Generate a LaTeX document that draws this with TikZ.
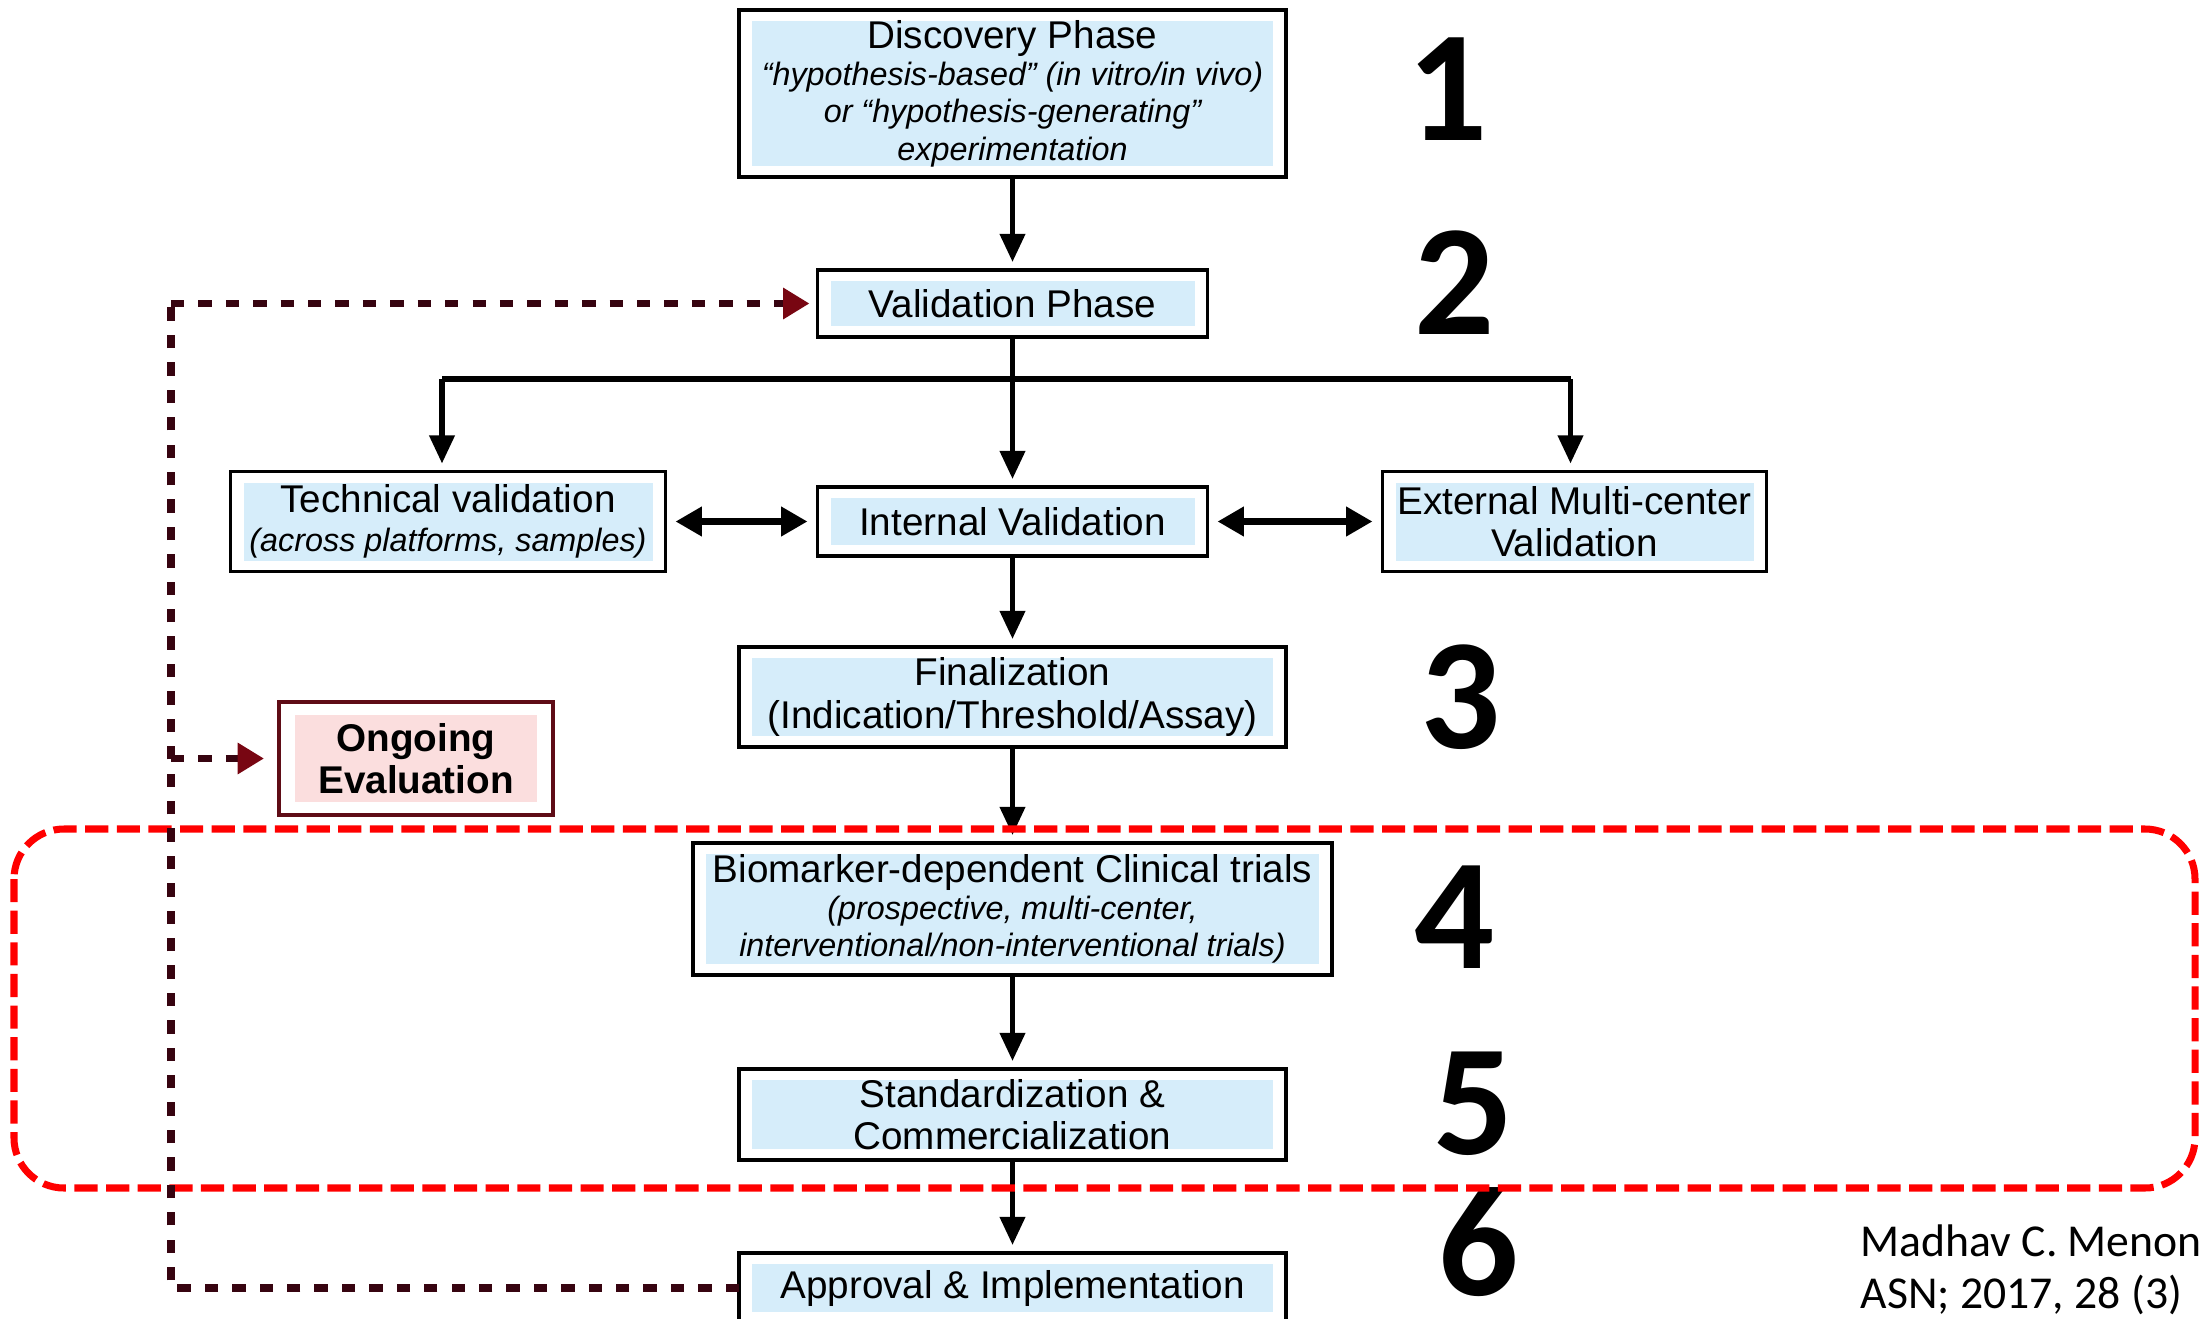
\documentclass[tikz,border=0pt]{standalone}
\usepackage{fontspec}
\setmainfont{Liberation Sans}
\newfontfamily\calibri{Carlito}
\usetikzlibrary{arrows.meta}
\usetikzlibrary{positioning}
\definecolor{boxblue}{RGB}{214,237,250}
\definecolor{evalpink}{RGB}{251,222,222}
\definecolor{evalred}{RGB}{95,12,22}
\definecolor{fbred}{RGB}{55,4,16}
\definecolor{fbtipred}{RGB}{120,6,18}
\newcommand{\subtext}[1]{{\fontsize{9.2}{10.5}\selectfont\itshape #1}}

\begin{document}
\begin{tikzpicture}[
				node distance=9.3mm,
				arrow/.style={line width=1.5pt, -{Triangle[length=8pt, width=7pt]}, shorten >=0.8mm},
				twoway/.style={line width=2pt, {Triangle[length=7.5pt, width=8pt]}-{Triangle[length=7.5pt, width=8pt]}, shorten >=1mm, shorten <=1mm},
				block/.style={draw, line width=1.1pt, outer sep=0pt, fill=white, align=center, inner sep=2pt, font=\fontsize{11}{12}\selectfont,
					path picture={\fill[boxblue] ([xshift=1.3mm, yshift=-1.1mm]path picture bounding box.north west) rectangle ([xshift=-1.3mm, yshift=1.1mm]path picture bounding box.south east);}},
				evalblock/.style={draw=evalred, line width=1.3pt, outer sep=0pt, fill=white, align=center, inner sep=2pt, font=\bfseries\fontsize{11}{12}\selectfont,
					path picture={\fill[evalpink] ([xshift=1.6mm, yshift=-1.3mm]path picture bounding box.north west) rectangle ([xshift=-1.6mm, yshift=1.3mm]path picture bounding box.south east);}},
				fbline/.style={draw=fbred, line width=2pt, dash pattern=on 3.8pt off 4pt},
				fbtip/.style={-{Triangle[length=7.5pt, width=8.5pt, color=fbtipred]}, shorten >=0.8mm},
				trialframe/.style={draw=red, line width=2pt, dash pattern=on 6.6pt off 2.4pt, rounded corners=5mm},
				stagenum/.style={inner sep=0pt, font=\calibri\bfseries\fontsize{45}{45}\selectfont},
				citetext/.style={anchor=base west, inner sep=0pt, font=\calibri\fontsize{13}{15}\selectfont},
			]
				\useasboundingbox (0,0) rectangle (22.02,-13.19);

				\node (disc) [block, minimum width=54.7mm, minimum height=16.7mm, font=\fontsize{11}{10.6}\selectfont] at (10.125,-0.935)
					{Discovery Phase\\\subtext{``hypothesis-based'' (in vitro/in vivo)}\\\subtext{or ``hypothesis-generating''}\\\subtext{experimentation}};
				\node (valid) [block, below=of disc, minimum width=39mm, minimum height=6.7mm] {Validation Phase};
				\node (internal) [block, below=15mm of valid, minimum width=39mm, minimum height=6.9mm] {Internal Validation};
				\node (tech) [block, left=15.2mm of internal, minimum width=43.5mm, minimum height=10mm, font=\fontsize{11}{11}\selectfont]
					{Technical validation\\\subtext{(across platforms, samples)}};
				\node (external) [block, right=17.5mm of internal, minimum width=38.4mm, minimum height=10mm] {External Multi-center\\Validation};
				\node (final) [block, below=9.1mm of internal, minimum width=54.7mm, minimum height=10mm] {Finalization\\(Indication/Threshold/Assay)};
				\node (bio) [block, below=9.6mm of final, minimum width=63.9mm, minimum height=13.2mm, font=\fontsize{11}{10.6}\selectfont]
					{Biomarker-dependent Clinical trials\\\subtext{(prospective, multi-center,}\\\subtext{interventional/non-interventional trials)}};
				\node (stand) [block, below=9.4mm of bio, minimum width=54.7mm, minimum height=9.1mm] {Standardization \&\\Commercialization};
				\node (approval) [block, below=of stand, minimum width=54.7mm, minimum height=7mm] {Approval \& Implementation};
				\node (ongoing) [evalblock, minimum width=27.4mm, minimum height=11.3mm] at (4.16,-7.585) {Ongoing\\Evaluation};

				\foreach \n/\x/\y in {1/14.48/-0.89, 2/14.55/-2.83, 3/14.61/-6.97, 4/14.55/-9.17, 5/14.74/-11.04, 6/14.79/-12.42}
					\node (num\n) [stagenum] at (\x,\y) {\n};

				\node (cite1) [citetext] at (18.60,-12.56) {Madhav C. Menon};
				\node (cite2) [citetext] at (18.60,-13.08) {ASN; 2017, 28 (3)};

				\coordinate[below=4.2mm of valid] (split);
				\coordinate (fbx) at (1.71,0);

				\draw[arrow] (disc) -- (valid);
				\draw[arrow] (valid) -- (internal);
				\draw[line width=1.5pt] ([xshift=-0.6mm]split -| tech.north) -- ([xshift=-0.4mm]split -| external.north);
				\draw[arrow] ([xshift=-0.6mm]split -| tech.north) -- ([xshift=-0.6mm]tech.north);
				\draw[arrow] ([xshift=-0.4mm]split -| external.north) -- ([xshift=-0.4mm]external.north);
				\draw[twoway] (tech) -- (internal);
				\draw[twoway] (internal) -- (external);
				\draw[arrow] (internal) -- (final);
				\draw[arrow] (final) -- (bio);
				\draw[arrow] (bio) -- (stand);
				\draw[arrow] (stand) -- (approval);

				\draw[trialframe] (0.14,-8.29) rectangle (21.95,-11.88);

				\draw[fbline] (approval.west) -- (fbx |- approval.west) -- (fbx |- valid.west);
				\draw[fbline, fbtip] (fbx |- valid.west) -- (valid.west);
				\draw[fbline, fbtip, shorten >=1.5mm] (fbx |- ongoing.west) -- (ongoing.west);
			\end{tikzpicture}
\end{document}
